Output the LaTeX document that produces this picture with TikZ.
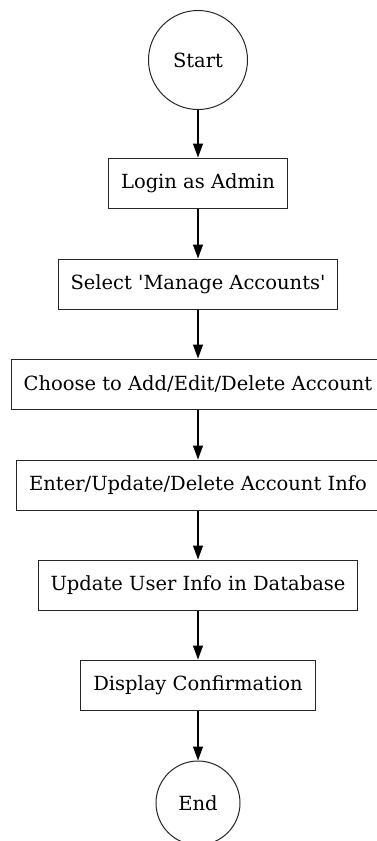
\documentclass[tikz,border=0pt]{standalone}
\usepackage{fontspec}
\setmainfont{DejaVu Serif}
\usetikzlibrary{positioning, arrows.meta}

\begin{document}
\begin{tikzpicture}[x=1pt, y=1pt,
    font=\fontsize{19.5}{23}\selectfont,
    terminal/.style={circle, draw=black!85, line width=1pt, inner sep=0pt},
    stepbox/.style={rectangle, draw=black!85, line width=1pt,
                    minimum height=50, inner xsep=12.5, inner ysep=0},
    flowarr/.style={-{Triangle[length=14pt, width=10pt]}, line width=1.1pt},
]
% ─── Frame (the reference is cropped on the right) ────────────────
\clip (0, 0) rectangle (377, -841);

% ─── Start / end ─────────────────────────────────────────────────
\node[terminal, minimum size=99] (start) at (198, -60) {Start};
\node[terminal, minimum size=84] (stop)  at (198, -803) {End};

% ─── Steps ───────────────────────────────────────────────────────
\node[stepbox] (login)   at (198, -183) {Login as Admin};
\node[stepbox] (select)  at (198, -284) {Select \textquotesingle Manage Accounts\textquotesingle};
\node[stepbox] (choose)  at (198, -384) {Choose to Add/Edit/Delete Account};
\node[stepbox] (enter)   at (198, -485) {Enter/Update/Delete Account Info};
\node[stepbox] (update)  at (198, -585) {Update User Info in Database};
\node[stepbox] (confirm) at (198, -685) {Display Confirmation};

% ─── Edges ───────────────────────────────────────────────────────
\draw[flowarr] (start)   -- (login);
\draw[flowarr] (login)   -- (select);
\draw[flowarr] (select)  -- (choose);
\draw[flowarr] (choose)  -- (enter);
\draw[flowarr] (enter)   -- (update);
\draw[flowarr] (update)  -- (confirm);
\draw[flowarr] (confirm) -- (stop);

\end{tikzpicture}
\end{document}
